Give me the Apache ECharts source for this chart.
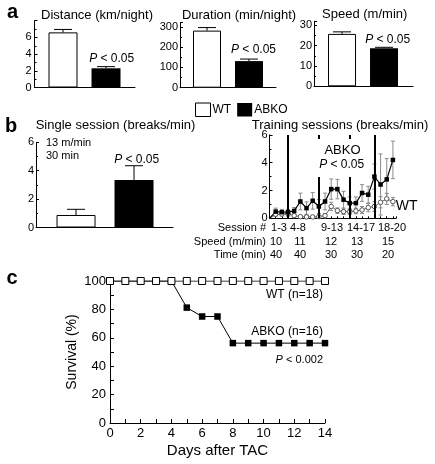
<!DOCTYPE html>
<html><head><meta charset="utf-8">
<script src="https://cdn.jsdelivr.net/npm/echarts@6/dist/echarts.min.js"></script>
<style>html,body{margin:0;padding:0;background:#fff}#c{width:435px;height:464px}</style>
</head><body><div id="c"></div>
<script>
// ---- data ----
const groups = ['WT', 'ABKO'];
const distanceMean = [6.6, 2.3];
const distanceErr = [0.35, 0.2];
const durationMean = [281, 131];
const durationErr = [15, 10];
const speedMean = [25.8, 18.7];
const speedErr = [1.0, 0.5];
const singleMean = [0.88, 3.35];
const singleErr = [0.4, 1.0];

const sessions = [0, 1, 2, 3, 4, 5, 6, 7, 8, 9, 10, 11, 12, 13, 14, 15, 16, 17, 18, 19, 20];
const trainABKO = [0, 0.48, 0.44, 0.44, 0.53, 1.21, 0.73, 1.26, 0.85, 1.21, 2.1, 2.1, 1.34, 1.09, 1.09, 1.82, 1.7, 3.0, 2.43, 2.8, 4.2];
const trainABKOErr = [0, 0.25, 0.2, 0.2, 0.25, 0.6, 0.45, 0.6, 0.5, 0.6, 0.73, 0.7, 0.6, 0.45, 0.45, 0.6, 0.6, 0.9, 2.2, 1.5, 1.35];
const trainWT = [0, 0.29, 0.31, 0.31, 0.19, 0.12, 0.1, 0.1, 0.12, 0.19, 0.85, 0.55, 0.48, 0.48, 0.53, 0.6, 0.77, 0.85, 1.15, 1.4, 1.2];
const trainWTErr = [0, 0.15, 0.15, 0.15, 0.1, 0.08, 0.08, 0.08, 0.1, 0.15, 0.3, 0.2, 0.2, 0.2, 0.2, 0.25, 0.3, 0.35, 0.4, 0.4, 0.3];
const separatorSessions = [3, 8, 13, 17];
const blockLabels = ['1-3', '4-8', '9-13', '14-17', '18-20'];
const blockSpeed = ['10', '11', '12', '13', '15'];
const blockTime = ['40', '40', '30', '30', '20'];

const days = [0, 1, 2, 3, 4, 5, 6, 7, 8, 9, 10, 11, 12, 13, 14];
const survWT = [100, 100, 100, 100, 100, 100, 100, 100, 100, 100, 100, 100, 100, 100, 100];
const survABKO = [100, 100, 100, 100, 100, 81.25, 75, 75, 56.25, 56.25, 56.25, 56.25, 56.25, 56.25, 56.25];

// ---- layout / style ----
const F = '"Liberation Sans", Arial, Helvetica, sans-serif';
const chart = echarts.init(document.getElementById('c'));

const grids = [
  {left: 34.5, top: 20.7, width: 100.5, height: 66.8},
  {left: 180, top: 22.7, width: 96, height: 65},
  {left: 314, top: 21.3, width: 99, height: 65},
  {left: 36, top: 142.3, width: 137, height: 85.2},
  {left: 269.5, top: 134.9, width: 126.5, height: 83.4},
  {left: 110, top: 281, width: 215, height: 142}
];

function barX(i, min, max) {
  return {type: 'value', gridIndex: i, min: min, max: max,
    axisLine: {show: true, onZero: false, lineStyle: {color: '#000', width: 1}},
    axisTick: {show: false}, axisLabel: {show: false}, splitLine: {show: false}};
}
function valY(i, max, interval, showMax, fs, margin) {
  return {type: 'value', gridIndex: i, min: 0, max: max, interval: interval,
    axisLine: {show: true, onZero: false, lineStyle: {color: '#000', width: 1}},
    axisTick: {show: true, inside: true, length: 3, lineStyle: {color: '#000'}},
    minorTick: {show: true, splitNumber: 2, length: 2, lineStyle: {color: '#000'}},
    axisLabel: {fontSize: fs || 11, fontFamily: F, color: '#000', margin: margin || 3, showMaxLabel: showMax},
    splitLine: {show: false}};
}

function errRender(capW, both, color) {
  return function (params, api) {
    const x = api.value(0), m = api.value(1), e = api.value(2);
    if (!e) return null;
    const top = api.coord([x, m + e]);
    const bot = api.coord([x, both ? m - e : m]);
    const st = {stroke: color, lineWidth: 1};
    const ch = [
      {type: 'line', shape: {x1: top[0], y1: top[1], x2: bot[0], y2: bot[1]}, style: st},
      {type: 'line', shape: {x1: top[0] - capW / 2, y1: top[1], x2: top[0] + capW / 2, y2: top[1]}, style: st}
    ];
    if (both) ch.push({type: 'line', shape: {x1: bot[0] - capW / 2, y1: bot[1], x2: bot[0] + capW / 2, y2: bot[1]}, style: st});
    return {type: 'group', children: ch};
  };
}

function barSeries(idx, mean, err, bw) {
  return [
    {type: 'bar', name: 'WT', xAxisIndex: idx, yAxisIndex: idx, barWidth: bw, barGap: '-100%',
      data: [[0, mean[0]]], itemStyle: {color: '#fff', borderColor: '#000', borderWidth: 1}},
    {type: 'bar', name: 'ABKO', xAxisIndex: idx, yAxisIndex: idx, barWidth: bw, barGap: '-100%',
      data: [[1, mean[1]]], itemStyle: {color: '#000'}},
    {type: 'custom', name: 'err' + idx, xAxisIndex: idx, yAxisIndex: idx,
      data: groups.map((g, i) => [i, mean[i], err[i]]), renderItem: errRender(18, false, '#000')}
  ];
}

function txt(x, y, text, size, align, extra) {
  return {type: 'text', x: x, y: y, z: 101,
    style: Object.assign({text: text, fontSize: size, fontFamily: F, fill: '#000',
      align: align || 'left', verticalAlign: 'middle'}, extra || {})};
}
function ptxt(x, y, text, size, align) {
  return txt(x, y, '{i|P}' + text, size, align, {rich: {i: {fontStyle: 'italic', fontSize: size, fontFamily: F, fill: '#000'}}});
}

const graphics = [
  txt(12.5, 12.4, 'a', 20, 'center', {fontWeight: 'bold'}),
  txt(11, 126, 'b', 20, 'center', {fontWeight: 'bold'}),
  txt(12, 278, 'c', 20, 'center', {fontWeight: 'bold'}),
  txt(97, 15, 'Distance (km/night)', 13, 'center'),
  txt(239, 15, 'Duration (min/night)', 13, 'center'),
  txt(364.7, 14, 'Speed (m/min)', 13, 'center'),
  txt(115.5, 125, 'Single session (breaks/min)', 13, 'center'),
  txt(340, 125, 'Training sessions (breaks/min)', 13, 'center'),
  ptxt(111.7, 58.3, ' < 0.05', 12, 'center'),
  ptxt(253.5, 49.3, ' < 0.05', 12, 'center'),
  ptxt(387.7, 40, ' < 0.05', 12, 'center'),
  ptxt(136.7, 160, ' < 0.05', 12, 'center'),
  txt(46, 143, '13 m/min', 11, 'left'),
  txt(46, 156, '30 min', 11, 'left'),
  {type: 'rect', z: 100, shape: {x: 316, y: 139, width: 48, height: 38}, style: {fill: '#fff'}},
  txt(342.5, 150, 'ABKO', 13, 'center'),
  ptxt(341.7, 165, ' < 0.05', 12, 'center'),
  txt(395.7, 206, 'WT', 14, 'left'),
  txt(266, 227.7, 'Session #', 11, 'right'),
  txt(266, 241.7, 'Speed (m/min)', 11, 'right'),
  txt(266, 255, 'Time (min)', 11, 'right'),
  txt(323, 295, 'WT (n=18)', 12, 'right'),
  txt(323, 332, 'ABKO (n=16)', 12, 'right'),
  ptxt(323, 360, ' < 0.002', 11, 'right')
];
const sessCols = [279, 298, 332, 361, 392];
const valCols = [276, 300, 331, 357, 388];
blockLabels.forEach((b, i) => {
  graphics.push(txt(sessCols[i], 227.7, b, 11, 'center'));
  graphics.push(txt(valCols[i], 241.7, blockSpeed[i], 11, 'center'));
  graphics.push(txt(valCols[i], 255, blockTime[i], 11, 'center'));
});

const series = [].concat(
  barSeries(0, distanceMean, distanceErr, 29),
  barSeries(1, durationMean, durationErr, 28),
  barSeries(2, speedMean, speedErr, 28),
  barSeries(3, singleMean, singleErr, 39),
  [
    {type: 'custom', name: 'wtErr', xAxisIndex: 4, yAxisIndex: 4,
      data: sessions.map((s, i) => [s, trainWT[i], trainWTErr[i]]), renderItem: errRender(4, true, '#8a8a8a')},
    {type: 'custom', name: 'koErr', xAxisIndex: 4, yAxisIndex: 4,
      data: sessions.map((s, i) => [s, trainABKO[i], trainABKOErr[i]]), renderItem: errRender(4, true, '#8a8a8a')},
    {type: 'line', name: 'WT training', xAxisIndex: 4, yAxisIndex: 4,
      data: sessions.map((s, i) => [s, trainWT[i]]),
      symbol: 'circle', symbolSize: (v, p) => p.dataIndex === 0 ? 0 : 4.5,
      itemStyle: {color: '#fff', borderColor: '#555', borderWidth: 1},
      lineStyle: {color: '#666', width: 1}},
    {type: 'line', name: 'ABKO training', xAxisIndex: 4, yAxisIndex: 4,
      data: sessions.map((s, i) => [s, trainABKO[i]]),
      symbol: 'rect', symbolSize: (v, p) => p.dataIndex === 0 ? 0 : 4.5,
      itemStyle: {color: '#000'}, lineStyle: {color: '#000', width: 1.2},
      markLine: {silent: true, symbol: 'none', label: {show: false},
        lineStyle: {color: '#000', width: 2, type: 'solid'},
        data: separatorSessions.map(s => [{coord: [s, 0]}, {coord: [s, 6]}])}},
    {type: 'line', name: 'ABKO survival', xAxisIndex: 5, yAxisIndex: 5,
      data: days.map((d, i) => [d, survABKO[i]]),
      symbol: 'rect', symbolSize: 6.5, itemStyle: {color: '#000'}, lineStyle: {color: '#000', width: 1}},
    {type: 'line', name: 'WT survival', xAxisIndex: 5, yAxisIndex: 5,
      data: days.map((d, i) => [d, survWT[i]]),
      symbol: 'rect', symbolSize: 7, itemStyle: {color: '#fff', borderColor: '#000', borderWidth: 1},
      lineStyle: {color: '#000', width: 1}}
  ]
);

const option = {
  animation: false,
  backgroundColor: '#fff',
  grid: grids,
  legend: {left: 190, top: 97.5, itemWidth: 15, itemHeight: 13.5, itemGap: 6, selectedMode: false,
    textStyle: {fontSize: 12, fontFamily: F, color: '#000', padding: [0, 0, 0, -3]},
    data: [
      {name: 'WT', icon: 'rect', itemStyle: {color: '#fff', borderColor: '#000', borderWidth: 1}},
      {name: 'ABKO', icon: 'rect', itemStyle: {color: '#000'}}
    ]},
  xAxis: [
    barX(0, -0.663, 1.674),
    barX(1, -0.643, 1.643),
    barX(2, -0.667, 1.69),
    barX(3, -0.69, 1.672),
    {type: 'value', gridIndex: 4, min: 0, max: 20.5, interval: 1,
      axisLine: {onZero: false, lineStyle: {color: '#000'}}, axisTick: {show: true, inside: true, length: 2, lineStyle: {color: '#000'}},
      axisLabel: {show: false}, splitLine: {show: false}},
    {type: 'value', gridIndex: 5, min: 0, max: 14, interval: 2,
      name: 'Days after TAC', nameLocation: 'middle', nameGap: 20,
      nameTextStyle: {fontSize: 15, fontFamily: F, color: '#000'},
      axisLine: {onZero: false, lineStyle: {color: '#000'}},
      axisTick: {show: true, inside: true, length: 4, lineStyle: {color: '#000'}},
      minorTick: {show: true, splitNumber: 2, length: 4, lineStyle: {color: '#000'}},
      axisLabel: {fontSize: 13, fontFamily: F, color: '#000', margin: 4}, splitLine: {show: false}}
  ],
  yAxis: [
    valY(0, 8, 2, false),
    valY(1, 320, 100, false, 11, 2),
    valY(2, 32, 10, false, 11, 2),
    valY(3, 6, 2, true, 11, 2),
    valY(4, 6, 2, true, 11, 2),
    Object.assign(valY(5, 100, 20, true, 13, 4), {
      name: 'Survival (%)', nameLocation: 'middle', nameGap: 31,
      nameTextStyle: {fontSize: 14, fontFamily: F, color: '#000'},
      axisTick: {show: true, inside: true, length: 4, lineStyle: {color: '#000'}},
      minorTick: {show: true, splitNumber: 2, length: 4, lineStyle: {color: '#000'}}})
  ],
  series: series,
  graphic: graphics
};
chart.setOption(option);
</script></body></html>
